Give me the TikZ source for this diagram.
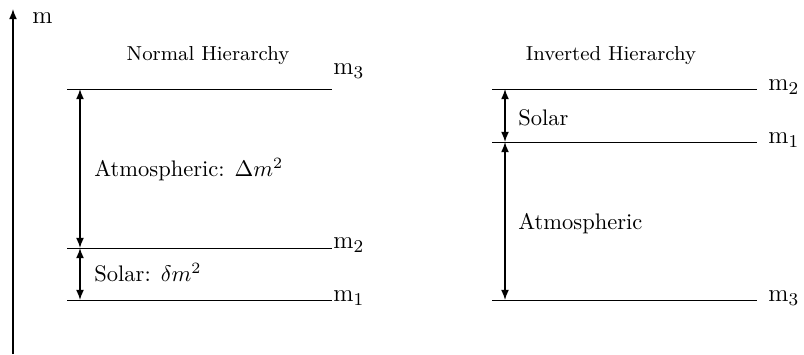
\documentclass[tikz,border=0pt]{standalone}
\usetikzlibrary{arrows.meta}
\begin{document}
\begin{tikzpicture}[x=0.4444pt,y=-0.4444pt,
  tip/.tip={Latex[length=4.5pt,width=3.5pt]},
  level/.style={line width=0.4pt},
  gap/.style={line width=0.6pt,tip-tip},
  mlab/.style={anchor=west,inner sep=0pt,font=\fontsize{11}{13}\selectfont},
  txt/.style={anchor=west,inner sep=0pt,font=\normalsize},
  ttl/.style={inner sep=0pt,font=\fontsize{9}{11}\selectfont}]
\useasboundingbox (0,0) rectangle (804,354);
% axis
\coordinate (ax0) at (13,354);
\coordinate (ax1) at (13,9);
\draw[line width=0.6pt,-tip] (ax0) -- (ax1);
\node[mlab] (axl) at (32,18) {m};
% normal hierarchy
\node[ttl] (tn) at (208,56) {Normal Hierarchy};
\coordinate (n3a) at (67,89);  \coordinate (n3b) at (332,89);
\coordinate (n2a) at (67,248); \coordinate (n2b) at (332,248);
\coordinate (n1a) at (67,300); \coordinate (n1b) at (332,300);
\draw[level] (n3a) -- (n3b);
\draw[level] (n2a) -- (n2b);
\draw[level] (n1a) -- (n1b);
\node[mlab] (ln3) at (333,71) {m$_3$};
\node[mlab] (ln2) at (333,245) {m$_2$};
\node[mlab] (ln1) at (333,298) {m$_1$};
\coordinate (na3) at (80,89); \coordinate (na2) at (80,248); \coordinate (na1) at (80,300);
\draw[gap] (na3) -- (na2);
\draw[gap] (na2) -- (na1);
\node[txt] (atm) at (94,170) {Atmospheric: $\Delta m^2$};
\node[txt] (sol) at (94,273) {Solar: $\delta m^2$};
% inverted hierarchy
\node[ttl] (ti) at (611,56) {Inverted Hierarchy};
\coordinate (i2a) at (492,89);  \coordinate (i2b) at (757,89);
\coordinate (i1a) at (492,142); \coordinate (i1b) at (757,142);
\coordinate (i3a) at (492,300); \coordinate (i3b) at (757,300);
\draw[level] (i2a) -- (i2b);
\draw[level] (i1a) -- (i1b);
\draw[level] (i3a) -- (i3b);
\node[mlab] (li2) at (768,87) {m$_2$};
\node[mlab] (li1) at (768,140) {m$_1$};
\node[mlab] (li3) at (768,298) {m$_3$};
\coordinate (ia2) at (505,89); \coordinate (ia1) at (505,142); \coordinate (ia3) at (505,300);
\draw[gap] (ia2) -- (ia1);
\draw[gap] (ia1) -- (ia3);
\node[txt] (sol2) at (518,118) {Solar};
\node[txt] (atm2) at (518,224) {Atmospheric};
\end{tikzpicture}
\end{document}
